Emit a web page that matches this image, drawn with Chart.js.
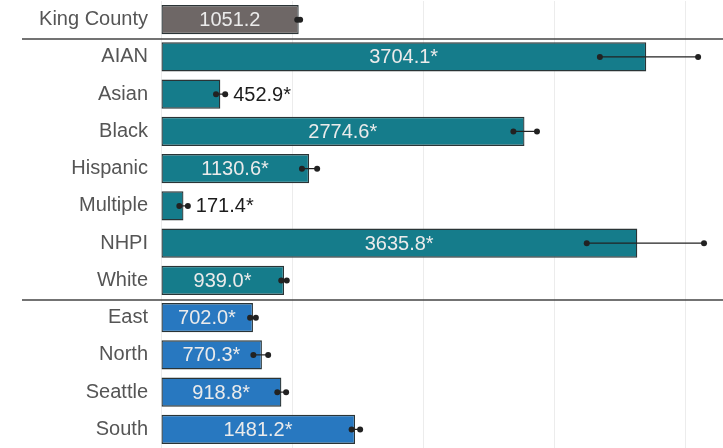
<!DOCTYPE html>
<html><head><meta charset="utf-8">
<script src="https://cdn.jsdelivr.net/npm/chart.js@4"></script>
<style>html,body{margin:0;padding:0;background:#fff}#wrap{width:723px;height:448px;position:relative}</style>
</head><body><div id="wrap"><canvas id="c"></canvas></div>
<script>
const categories = ['King County','AIAN','Asian','Black','Hispanic','Multiple','NHPI','White','East','North','Seattle','South'];
const values = [1051.2,3704.1,452.9,2774.6,1130.6,171.4,3635.8,939.0,702.0,770.3,918.8,1481.2];
const lowerCI = [1040,3350,420,2690,1076,140,3250,918,680,705,888,1455];
const upperCI = [1062,4100,490,2870,1192,205,4145,960,724,818,955,1520];
const significant = [false,true,true,true,true,true,true,true,true,true,true,true];
const groups = ['county','race','race','race','race','race','race','race','region','region','region','region'];
const gridTicks = [0,1000,2000,3000,4000];
const groupColors = {county:'#6e6766', race:'#157c8b', region:'#2878c0'};
const separatorsAfter = [0,7];
const FONT = '"Liberation Sans", Arial, sans-serif';

const errPlugin = {
  id:'err',
  afterDatasetsDraw(chart){
    const ctx=chart.ctx, x=chart.scales.x, y=chart.scales.y, area=chart.chartArea;
    ctx.save();
    ctx.strokeStyle='#444'; ctx.lineWidth=1.5;
    separatorsAfter.forEach(i=>{
      const yy=Math.round((y.getPixelForValue(i)+y.getPixelForValue(i+1))/2)+1;
      ctx.beginPath(); ctx.moveTo(22,yy); ctx.lineTo(area.right,yy); ctx.stroke();
    });
    ctx.strokeStyle='#222'; ctx.fillStyle='#222'; ctx.lineWidth=1.2;
    values.forEach((v,i)=>{
      const yy=y.getPixelForValue(i);
      const x1=x.getPixelForValue(lowerCI[i]), x2=x.getPixelForValue(upperCI[i]);
      ctx.beginPath(); ctx.moveTo(x1,yy); ctx.lineTo(x2,yy); ctx.stroke();
      [x1,x2].forEach(px=>{ctx.beginPath();ctx.arc(px,yy,3,0,Math.PI*2);ctx.fill();});
    });
    ctx.textBaseline='middle';
    ctx.font='20px '+FONT;
    values.forEach((v,i)=>{
      const txt=v.toFixed(1)+(significant[i]?'*':'');
      const yy=y.getPixelForValue(i)+1;
      const x0=x.getPixelForValue(0), xe=x.getPixelForValue(v);
      const w=ctx.measureText(txt).width;
      if(xe-x0 > w+10){
        ctx.fillStyle='#ebebeb'; ctx.textAlign='center';
        ctx.fillText(txt,(x0+xe)/2,yy);
      } else {
        ctx.fillStyle='#1c1c1c'; ctx.textAlign='left';
        ctx.fillText(txt,x.getPixelForValue(upperCI[i])+8,yy);
      }
    });
    ctx.restore();
  }
};

new Chart(document.getElementById('c'),{
  type:'bar',
  data:{labels:categories,datasets:[{
    data:values,
    backgroundColor:groups.map(g=>groupColors[g]),
    borderColor:'#2a3436',
    borderWidth:1.3,
    borderSkipped:false,
    barPercentage:0.78,
    categoryPercentage:1
  }]},
  options:{
    indexAxis:'y',
    responsive:true, maintainAspectRatio:false, animation:false,
    layout:{padding:{top:1,right:0,bottom:0,left:0}},
    plugins:{legend:{display:false},tooltip:{enabled:false}},
    scales:{
      x:{min:0,max:4290,ticks:{display:false},
         afterBuildTicks(s){s.ticks=gridTicks.map(v=>({value:v}));},
         afterFit(s){s.height=0;s.paddingLeft=0;s.paddingRight=0;},
         grid:{color:'#ececec',drawTicks:false},border:{display:false}},
      y:{grid:{display:false,drawTicks:false},border:{display:false},
         ticks:{color:'#555',padding:13,font:{family:FONT,size:20}},
         afterFit(s){s.width=161;s.paddingTop=0;s.paddingBottom=0;}}
    }
  },
  plugins:[errPlugin]
});
</script></body></html>
